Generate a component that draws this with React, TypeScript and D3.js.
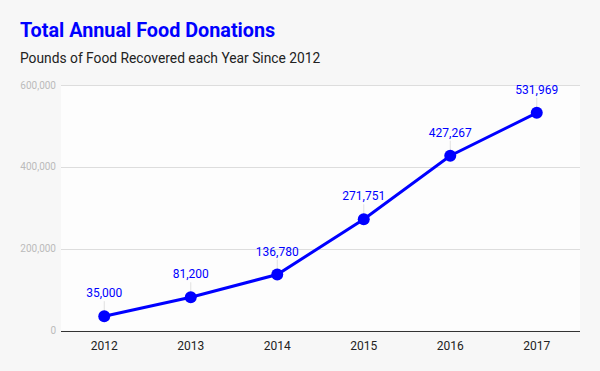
import React, { useEffect, useRef } from 'react';
import * as d3 from 'd3';

const years = ['2012', '2013', '2014', '2015', '2016', '2017'];
const pounds = [35000, 81200, 136780, 271751, 427267, 531969];
const yTicks = [0, 200000, 400000, 600000];

function App() {
  const svgRef = useRef<SVGSVGElement>(null);

  useEffect(() => {
    const width = 600;
    const height = 371;
    const margin = { top: 85, right: 20, bottom: 40, left: 61 };
    const blue = '#0000ff';

    const svg = d3.select(svgRef.current);
    svg.selectAll('*').remove();

    svg.append('rect').attr('width', width).attr('height', height).attr('fill', '#f7f7f7');

    const x = d3.scalePoint().domain(years).range([margin.left, width - margin.right]).padding(0.5);
    const y = d3.scaleLinear().domain([0, 600000]).range([height - margin.bottom - 0.5, margin.top]);

    svg
      .append('rect')
      .attr('x', margin.left)
      .attr('y', margin.top)
      .attr('width', width - margin.left - margin.right)
      .attr('height', y(0) - margin.top)
      .attr('fill', '#fdfdfd');

    svg
      .append('text')
      .attr('x', 20)
      .attr('y', 37)
      .style('font-family', 'Roboto')
      .style('font-size', '19.8px')
      .style('font-weight', 'bold')
      .attr('fill', blue)
      .text('Total Annual Food Donations');

    svg
      .append('text')
      .attr('x', 20)
      .attr('y', 63)
      .style('font-family', 'Roboto')
      .style('font-size', '13.8px')
      .attr('fill', '#222')
      .text('Pounds of Food Recovered each Year Since 2012');

    const grid = svg.append('g');
    yTicks.forEach(t => {
      if (t !== 0) {
        grid
          .append('line')
          .attr('x1', margin.left)
          .attr('x2', width - margin.right)
          .attr('y1', Math.round(y(t)) + 0.5)
          .attr('y2', Math.round(y(t)) + 0.5)
          .attr('stroke', '#dddddd');
      }
      grid
        .append('text')
        .attr('x', margin.left - 5)
        .attr('y', y(t) + 3.5)
        .attr('text-anchor', 'end')
        .style('font-family', 'Roboto')
        .style('font-size', '10px')
        .attr('fill', '#bbbbbb')
        .text(d3.format(',')(t));
    });

    svg
      .append('line')
      .attr('x1', margin.left)
      .attr('x2', width - margin.right)
      .attr('y1', Math.round(y(0)) + 0.5)
      .attr('y2', Math.round(y(0)) + 0.5)
      .attr('stroke', '#333');

    years.forEach(yr => {
      svg
        .append('text')
        .attr('x', x(yr)!)
        .attr('y', 350)
        .attr('text-anchor', 'middle')
        .style('font-family', 'Roboto')
        .style('font-size', '12px')
        .attr('fill', '#222')
        .text(yr);
    });

    const data = years.map((yr, i) => ({ yr, v: pounds[i] }));

    // leader lines
    svg
      .selectAll('.leader')
      .data(data)
      .enter()
      .append('line')
      .attr('x1', d => x(d.yr)!)
      .attr('x2', d => x(d.yr)!)
      .attr('y1', d => y(d.v) - 15)
      .attr('y2', d => y(d.v) - 5)
      .attr('stroke', '#e0e0e0');

    const line = d3
      .line<{ yr: string; v: number }>()
      .x(d => x(d.yr)!)
      .y(d => y(d.v));

    svg
      .append('path')
      .datum(data)
      .attr('fill', 'none')
      .attr('stroke', blue)
      .attr('stroke-width', 3)
      .attr('d', line);

    svg
      .selectAll('.dot')
      .data(data)
      .enter()
      .append('circle')
      .attr('cx', d => x(d.yr)!)
      .attr('cy', d => y(d.v))
      .attr('r', 6)
      .attr('fill', blue);

    svg
      .selectAll('.lbl')
      .data(data)
      .enter()
      .append('text')
      .attr('x', d => x(d.yr)!)
      .attr('y', d => y(d.v) - 19)
      .attr('text-anchor', 'middle')
      .style('font-family', 'Roboto')
      .style('font-size', '12px')
      .attr('fill', blue)
      .text(d => d3.format(',')(d.v));
  }, []);

  return (
    <svg
      ref={svgRef}
      width={600}
      height={371}
      style={{ position: 'absolute', left: 0, top: 0 }}
    />
  );
}

export default App;
